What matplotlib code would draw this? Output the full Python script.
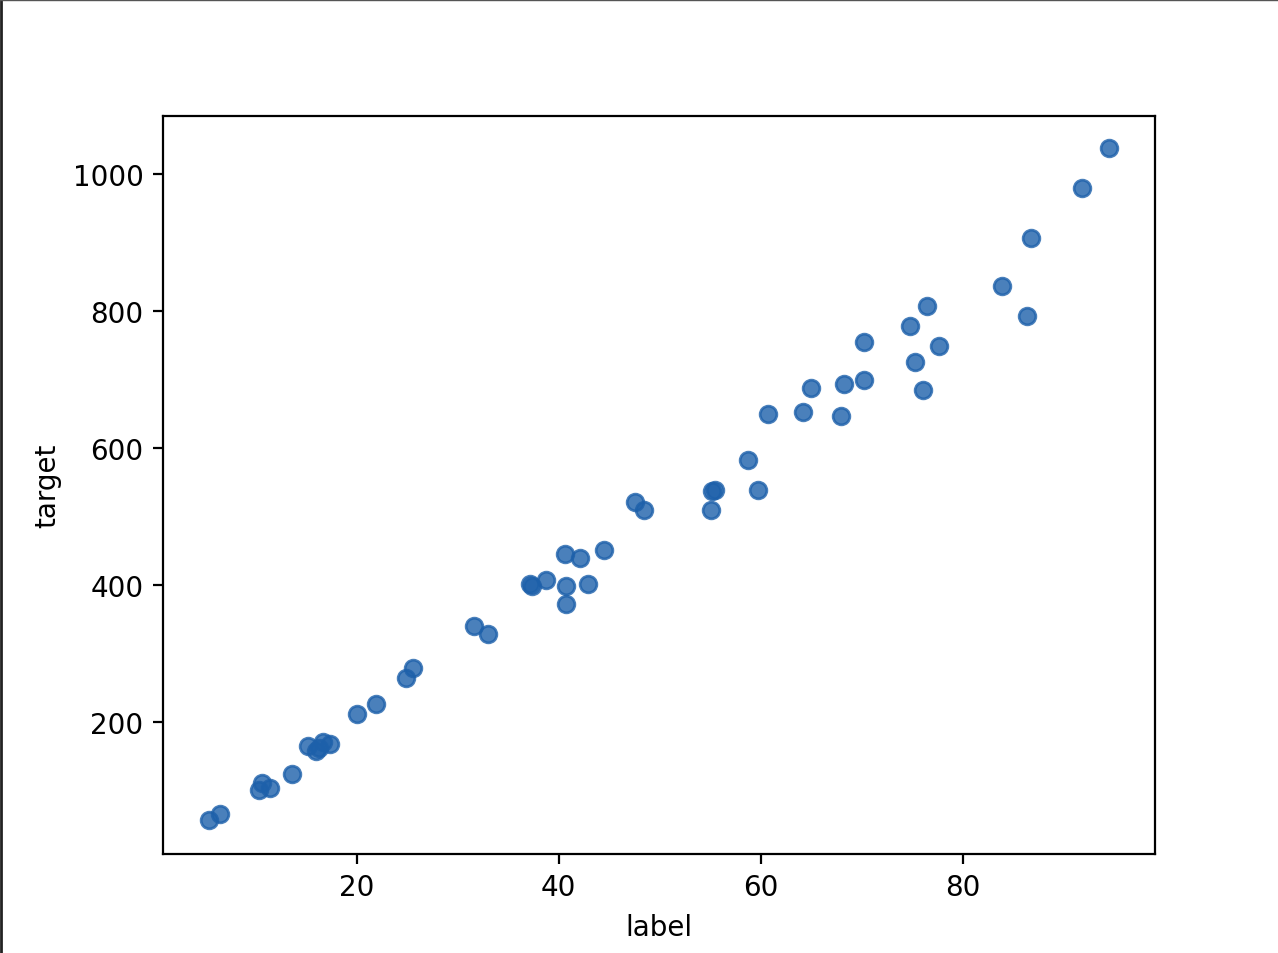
import matplotlib
matplotlib.use("Agg")
import matplotlib.pyplot as plt
from matplotlib.lines import Line2D

label = [5.35, 6.44, 10.3, 10.6, 11.4, 13.6, 15.2, 16.0, 16.6, 17.3, 16.3,
         20.0, 21.9, 24.85, 25.6, 31.6, 33.0, 37.1, 37.3, 38.7, 40.6, 42.1,
         40.7, 42.9, 40.7, 44.5, 47.5, 48.4, 55.2, 55.5, 55.1, 58.7, 59.7,
         60.7, 64.2, 65.0, 68.0, 68.2, 70.2, 70.2, 74.75, 76.5, 75.3, 77.7,
         76.1, 83.9, 86.4, 86.8, 91.8, 94.5]
target = [57, 65.7, 100.7, 111, 103.6, 124, 165, 157.7, 170.8, 167.9, 162,
          211.7, 226, 264, 279, 340, 328.5, 401.5, 398.5, 407, 445, 439,
          398.5, 401.5, 372, 451, 521, 509.5, 537, 538.7, 509.5, 582.5, 538.7,
          649.6, 652.6, 687.6, 646.7, 693.4, 754.7, 699.3, 778, 807, 725.5, 749,
          684.7, 836.5, 792.7, 906.6, 979.6, 1038]

W, H = 1278, 954
fig = plt.figure(figsize=(W / 200, H / 200), dpi=200)
ax = fig.add_axes([163 / W, (H - 855) / H, 992 / W, 738 / H])
ax.scatter(label, target, color="#1d60aa", alpha=0.8)
ax.set_xlim(0.8, 99.05)
ax.set_ylim(7.3, 1084)
ax.set_xlabel("label")
ax.set_ylabel("target")

fig.add_artist(Line2D([1 / W, 1 / W], [0, 1], transform=fig.transFigure,
                      color="#222222", lw=1.0))
fig.add_artist(Line2D([0, 1], [1 - 0.5 / H, 1 - 0.5 / H], transform=fig.transFigure,
                      color="#555555", lw=0.5))

fig.savefig("out.png", dpi=200)
